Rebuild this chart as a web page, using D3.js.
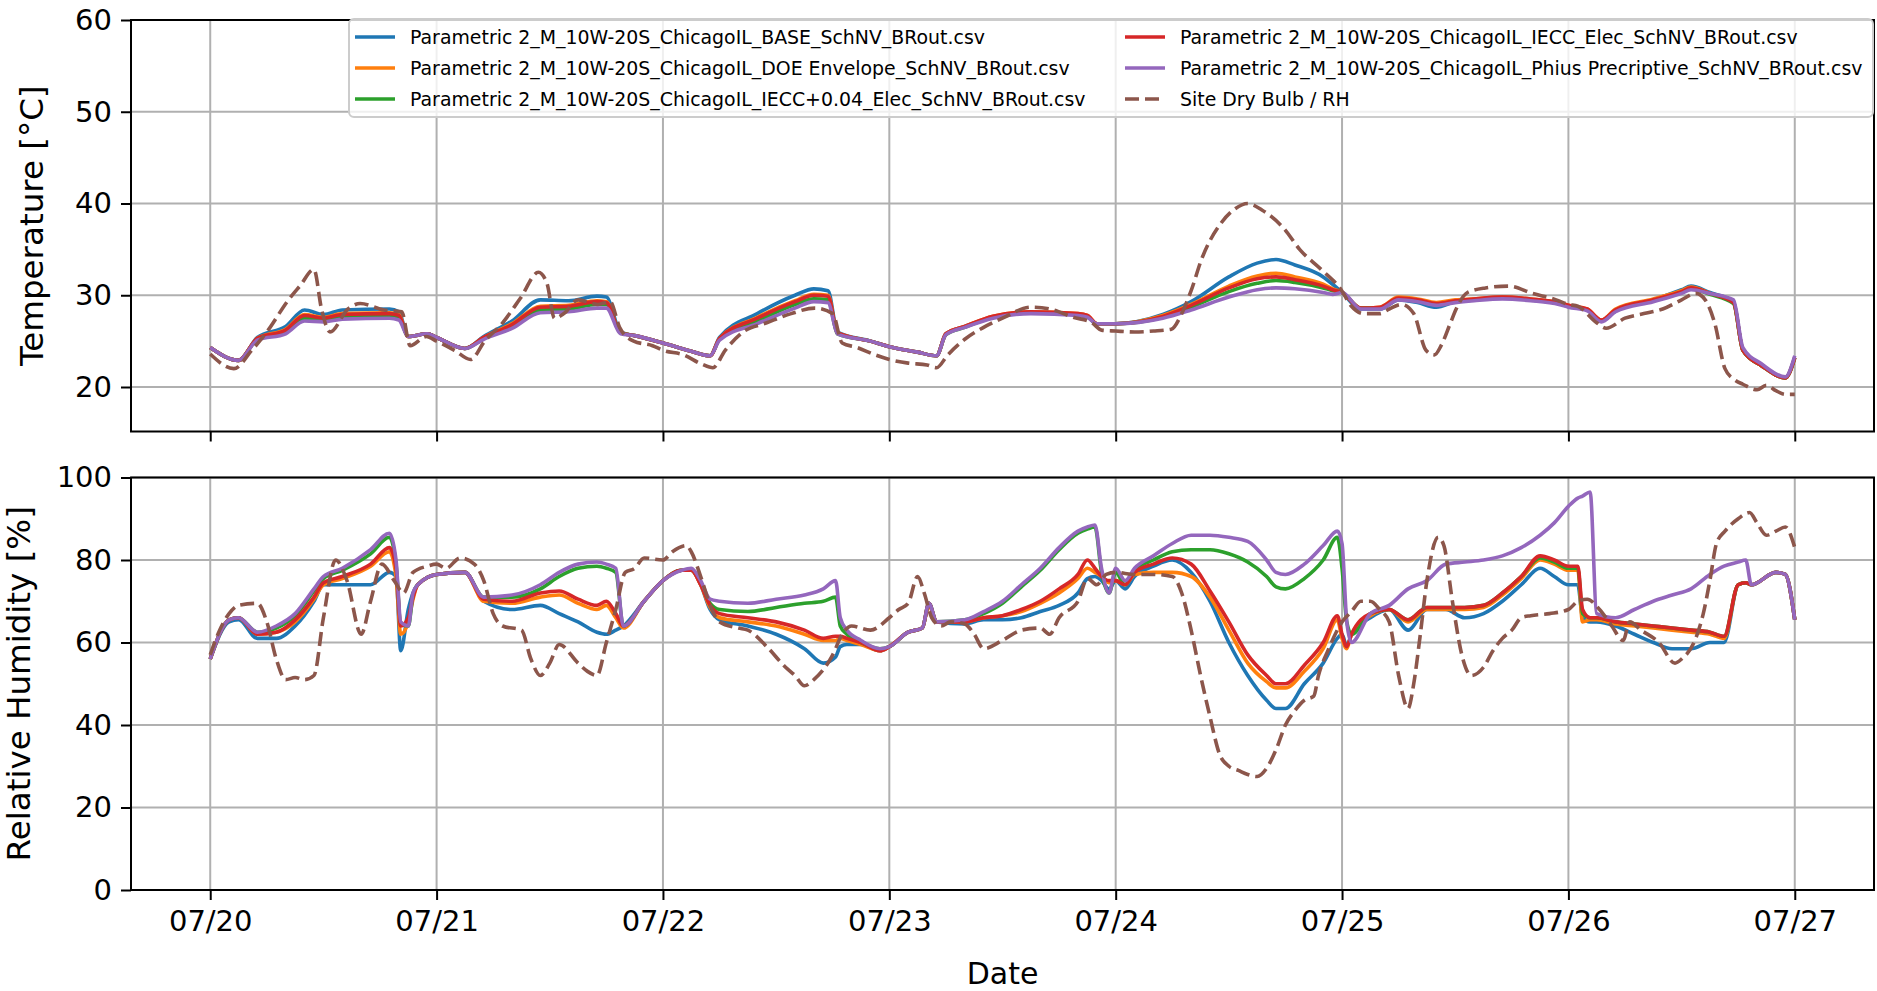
<!DOCTYPE html>
<html>
<head>
<meta charset="utf-8">
<script src="https://cdn.jsdelivr.net/npm/d3@7"></script>
<style>
  body { margin: 0; background: #fff; }
  text { font-family: "DejaVu Sans", sans-serif; fill: #000; }
</style>
</head>
<body>
<svg id="chart" width="1877" height="991"></svg>
<script>

// ---- data (hours counted from 07/20 00:00) ----

var seriesNames = [
    "Parametric 2_M_10W-20S_ChicagoIL_BASE_SchNV_BRout.csv",
    "Parametric 2_M_10W-20S_ChicagoIL_DOE Envelope_SchNV_BRout.csv",
    "Parametric 2_M_10W-20S_ChicagoIL_IECC+0.04_Elec_SchNV_BRout.csv",
    "Parametric 2_M_10W-20S_ChicagoIL_IECC_Elec_SchNV_BRout.csv",
    "Parametric 2_M_10W-20S_ChicagoIL_Phius Precriptive_SchNV_BRout.csv",
    "Site Dry Bulb / RH"
];
var seriesColors = ["#1f77b4", "#ff7f0e", "#2ca02c", "#d62728", "#9467bd", "#8c564b"];

var dayTicks = ["07/20", "07/21", "07/22", "07/23", "07/24", "07/25", "07/26", "07/27"];
var tempTicks = [20, 30, 40, 50, 60];
var rhTicks = [0, 20, 40, 60, 80, 100];

// temperature, modelled zones
var tempHours = [0,3,5,8,10,12,14,19,20,21,23,
    24,27,29,32,35,38,41,42,43.5,45,
    48,51,53,54,58,62,64,65.5,66.5,70,
    72,75,77,78,80,83,87,92,93,94,
    96,101,104,108,111,113,115,118,119,
    120,122,124,126,128,130,132,134,137,140,143,
    144,146,147.5,149,153,156,157,159,161.5,162.5,164.5,167,168];

var tempBase = [24.3,22.9,25.4,26.6,28.4,27.9,28.4,28.5,28.2,25.5,25.8,
    25.4,24.2,25.5,27.2,29.5,29.4,29.9,29.8,26.0,25.6,
    24.8,23.9,23.4,25.4,28.0,30.0,30.7,30.5,26.0,25.0,
    24.4,23.8,23.4,25.8,26.6,27.6,28.1,27.9,27.7,26.9,
    26.9,27.9,29.3,32.0,33.5,33.9,33.3,32.0,31.2,
    30.3,28.5,28.5,29.5,29.2,28.7,29.3,29.5,29.8,29.5,29.1,
    28.8,28.4,27.2,28.3,29.5,30.6,31.0,30.3,29.3,24.0,22.3,21.0,23.2];

var tempDoe = [24.3,22.9,25.3,26.3,27.9,27.6,28.0,28.1,27.9,25.5,25.8,
    25.4,24.2,25.4,26.9,28.8,28.9,29.4,29.3,25.9,25.6,
    24.8,23.9,23.4,25.3,27.6,29.4,30.1,30.0,25.9,25.0,
    24.4,23.8,23.4,25.8,26.6,27.7,28.2,28.0,27.8,26.9,
    26.9,27.8,29.0,31.0,32.1,32.4,32.0,31.2,30.7,
    30.3,28.6,28.7,29.8,29.6,29.2,29.5,29.6,29.8,29.6,29.2,
    28.9,28.5,27.3,28.5,29.6,30.5,30.9,30.2,29.2,24.0,22.3,21.0,23.2];

var tempIeccPlus = [24.3,22.9,25.2,26.0,27.5,27.3,27.7,27.8,27.6,25.5,25.8,
    25.4,24.2,25.3,26.6,28.4,28.5,29.0,29.0,25.9,25.6,
    24.8,23.9,23.4,25.2,27.2,29.0,29.6,29.5,25.8,25.0,
    24.4,23.8,23.4,25.7,26.5,27.6,28.1,27.9,27.7,26.9,
    26.9,27.6,28.7,30.4,31.3,31.6,31.4,30.8,30.5,
    30.3,28.6,28.6,29.6,29.4,29.0,29.3,29.5,29.7,29.5,29.1,
    28.8,28.4,27.2,28.3,29.4,30.3,30.7,30.1,29.1,24.0,22.3,21.0,23.2];

var tempIecc = [24.3,22.9,25.3,26.2,27.8,27.5,27.9,28.0,27.8,25.5,25.8,
    25.4,24.2,25.4,26.8,28.7,28.8,29.3,29.2,25.9,25.6,
    24.8,23.9,23.4,25.3,27.5,29.3,30.0,29.9,25.9,25.0,
    24.4,23.8,23.4,25.8,26.6,27.7,28.2,28.0,27.8,26.9,
    26.9,27.7,28.9,30.8,31.8,32.0,31.7,31.0,30.6,
    30.3,28.6,28.7,29.7,29.5,29.1,29.4,29.6,29.8,29.6,29.2,
    28.9,28.5,27.3,28.4,29.5,30.4,30.8,30.2,29.2,24.0,22.3,21.0,23.2];

var tempPhius = [24.3,22.9,25.1,25.8,27.2,27.1,27.4,27.5,27.3,25.5,25.8,
    25.4,24.2,25.2,26.4,28.1,28.2,28.6,28.6,25.8,25.6,
    24.8,23.9,23.4,25.1,26.9,28.6,29.3,29.2,25.8,25.0,
    24.4,23.8,23.4,25.7,26.5,27.5,28.0,27.8,27.6,26.9,
    26.9,27.5,28.4,29.8,30.6,30.8,30.7,30.3,30.1,
    30.3,28.5,28.5,29.5,29.3,28.9,29.2,29.4,29.6,29.4,29.0,
    28.7,28.3,27.1,28.2,29.3,30.2,30.6,30.2,29.5,24.3,22.5,21.1,23.4];

// site dry bulb [hour, °C]
var siteTemp = [[0,23.6],[2.5,22],[4.4,24],[6,26],[8.3,29.5],[9.5,31],[11,32.8],[11.8,28.5],[12.7,26],[14.6,28.5],[15.9,29.1],[18.4,28.4],[20.3,28.2],[21.2,24.5],[22.9,25.5],
    [24,25],[25.9,24],[27.6,23],[29.1,25],[31,27],[32.9,29.7],[34.8,32.5],[35.7,31.3],[36.5,27.5],[37.5,28],[39,29.5],[41.1,29],[42.4,29.3],[43.4,26.5],[44.9,25],[46.9,24.5],
    [48,24],[50.2,23.5],[52.1,22.5],[53.3,22.1],[54.6,24],[56.5,26],[59,27],[61.6,28],[64.1,28.6],[66,28],[67,24.8],[68.6,24.3],[70.5,23.5],
    [72,23],[74,22.6],[76,22.4],[77,22.1],[78.2,23.5],[80,25.2],[82,26.5],[84,27.5],[87,28.7],[89,28.5],[91.5,27.6],[93.5,27],[94.5,26.2],
    [96,26.1],[98,26],[100,26.1],[101.9,26.3],[103,28],[104,30.5],[105.1,33.9],[107.2,37.9],[108.5,39.3],[110,40],[111.5,39.3],[113.9,37.2],[115.5,35],[117.8,32.8],[119.9,30.6],
    [121,28.8],[122.3,28],[124,28],[125,28.5],[126.3,29],[127.6,28],[128.9,24],[129.8,23.5],[130.5,24.5],[131.5,27],[132.1,28.5],[133.3,30.3],[135.2,30.8],[137.7,31],[140.2,30.2],[142.7,29.5],
    [144,29],[145,28.8],[147,27],[148,26.4],[150,27.5],[152,28],[154,28.5],[156,29.5],[157.5,30.2],[158.5,29.5],[159.5,27],[160.6,22],[161.6,20.8],[162.5,20.3],[164,19.7],[165,20.2],[166,19.6],[167,19.2],[168,19.2]];

// relative humidity, modelled zones
var rhHours = [0,2,3,5,7,9,11,12,14,17,19,19.7,20.2,21,21.5,22,
    24,27,29,32,35,37,39,41,42,43,43.8,46,
    48,50,51,52,53,54,57,60,63,65,66.3,66.8,67.5,69,71,
    72,74,75.5,76.2,77,80,82,84,86,88,90,92,93,93.8,94.5,95.3,
    96,97,98,100,102,104,106,108,110,112,113,114,116,118,119.5,
    120,120.5,121,123,125,127,129,131,133,135,137,139,141,142.5,
    144,145,145.5,146.3,147,149,151,153,155,157,159,160.5,162,162.8,163.4,166,167,168];

var rhBase = [56,65,65.5,61,61,64,70,74,74,74,77,76,58,68,72,74,
    76.5,77,70,68,69,67,65,62.5,62,63,64,70,
    75,77.5,77.5,74,68,65.5,64,62,58.5,55,56.5,59,59.5,59.5,58,
    59,62.5,63.5,69.5,65,64.5,65.5,65.5,66,67.5,69,72,75.5,76,75,73,
    75,73,76,78.5,80,77,70,60,52,46,44,44,50,55,61,
    62,59,62,66,68,63,68,68,66,67,70,74,78,76,
    74,74,66,65,65,64,62,60,58.5,58.5,60,60,74,74.5,74,77,76.5,65.5];

var rhDoe = [56,65.5,66,62,62.5,65,70.5,74,75.5,78.5,82,76,62,65,70.5,74,
    76.5,77,70,69.5,71,71.5,69.5,68,69,66,63.5,70,
    75,77.5,77.5,74,68.5,66,65,64,62,60.5,60.5,61,60.5,59.5,58,
    59,62.5,63.5,69,65,65,66,66.5,67.5,69.5,72,75.5,78,77,76,74.5,
    75,74,76.5,77,77,76,71,63,55,50.5,49,49,53,58.5,65.5,
    61,58.5,62,66.5,68,65,68,68,68,68.5,71.5,75.5,80,79,
    77.5,77.5,65,65.5,65.5,64.5,64,63.5,63,62.5,62,61,74,74.5,74,77,76.5,65.5];

var rhIeccPlus = [56,65.5,66,62.5,63.5,66.5,72.5,75.5,77.5,81.5,85.5,79,64.5,64,71.5,74,
    76.5,77,71,71,73,76,78,78.5,78,77,64,70,
    75,77.5,77.5,74.5,69.5,68,67.5,68.5,69.5,70,71,64,62,60,58.5,
    59,62.5,63.5,69.5,65,65.5,67,69.5,73.5,77.5,82.5,86.5,87.5,88,77,72,
    77,74,77.5,80,82,82.5,82.5,81.5,79.5,76,73.5,73,75.5,80,85.5,
    78,65,62,67,68,65.5,68.5,68.5,68.5,69,72,76,80.5,79.5,
    78,78,67,66,66,65,64.5,64,63.5,63,62.5,61.5,74,74.5,74,77,76.5,65.5];

var rhIecc = [56,65.5,66,62,62.5,65.5,71,74.5,76,79,83,78,64,66,71,74,
    76.5,77,70.5,70,72,72.5,70.5,69,70,67,64,70,
    75,77.5,77.5,74,69,67,66,65,63,61,61.5,61.5,61,60,58,
    59,62.5,63.5,69.5,65,65,66,66.5,68,70,73,76.5,80,78,76,75,
    75,74,77,79,80.5,79,72.5,65,57,52,50,50,54.5,60,66.5,
    62,59,62,67,68,65.5,68.5,68.5,68.5,69,72,76,81,80,
    78.5,78.5,68,66,66,65,64.5,64,63.5,63,62.5,61.5,74,74.5,74,77,76.5,65.5];

var rhPhius = [56,65.5,66,62.5,64,67,73,76,78,82.5,86.5,80,65,64,72,74,
    76.5,77,71,71.5,74,77,79,79.5,79,78,64,70,
    75,77.5,78,75,70.5,70,69.5,70.5,71.5,73,75,66,63,60.5,58.5,
    59,62.5,63.5,69.5,65,65.5,67.5,70,74,78,83,87,88,88.5,78,72,
    78,75,78,81,84,86,86,85.5,84.5,80,77,76.5,79,83.5,87,
    84,65,60,67,69,73,75,79,79.5,80,81,83,86,89,
    93,95,95.5,96.5,67,66,68,70,71.5,73,76.5,78.5,79.5,80,74,77,76.5,65.5];

// site RH [hour, %]
var siteRh = [[0,57],[1,63],[2,67],[3,69],[5,69.5],[6,65],[7,56],[8,51],[9,51.5],[10,51],[11,52],[12,66],[13.3,80],[14.5,75],[16,62],[17,70],[18.2,79],[19.5,75],[20.5,72],[21.5,77],[23,78.5],
    [24,79],[25,78],[26.5,80.5],[28,79],[29,75],[30,67],[31,64],[33,63],[34,56],[35,52],[36,55],[37,59.5],[39,55],[40,53],[41,52],[42,60],[43,68],[44,77],[45,78],[46,80.5],
    [48,80],[49,82],[50.5,83.5],[51,82],[52,76],[53,69],[54,65],[56,63.5],[57,63],[59,59],[61,54],[62,52],[63,49.5],[64,51],[66,57],[67,62],[68,64],[70,63],
    [72,66],[73,68],[74,69.5],[75,76],[75.7,72],[76.5,66],[77.5,64],[78.5,65],[80,64.5],[81,62],[82,58.5],[84,60.5],[86,63],[88,63.5],[89,62],[90,66],[92,70],[93,75.5],[94,74],[95,76.5],
    [96,77],[98,76.5],[100,76.5],[102,76],[103,72],[104,63],[105,52],[106,42],[107,33],[108,30],[109,29],[110,28],[111,27.5],[112,29.5],[113,34],[114,40],[115,43.5],[116,46],[117,47],[117.5,52],[118.5,58],
    [120,65],[121,67.5],[122,70],[123,70],[124,68],[125,65],[126,52],[127,44],[127.6,50],[128.3,62],[129,75],[130.2,85.5],[130.8,83.5],[131.7,70],[132.7,57],[133.7,52],[135,54],[136,58],[137,61],[138,63],[139,66],[140,66.5],[142,67],
    [144,68],[145,70],[146,70.5],[147.3,68],[148.6,64],[149.8,60.5],[150.5,65],[151.7,63],[153.6,60],[155.3,55],[156,56],[157.5,61],[158.3,67],[159,75],[159.7,84],[160.6,87],[162,90],[163.2,91.5],[164,89],[165,86],[166,87],[167,88],[168,83]];

// ---- layout ----

var svg = d3.select("#chart");
var left = 131, right = 1874;
var topPanel = { y0: 20, y1: 431.5, labelX: 32 };
var botPanel = { y0: 477.5, y1: 890, labelX: 19 };   // pushed left by the wider "100" tick label

var tickFont = "29px";
var labelFont = "30px";
var yLabelFont = "32.5px";   // rotated labels come out a bit longer in the source
var legendFont = "18.9px";
var lineW = 3.6;
var dash = "14,6";

var t0 = Date.UTC(2000, 6, 20);
function hourToDate(h) { return new Date(t0 + h * 3600e3); }

// matplotlib style 5% margin either side of the 7 day span
var x = d3.scaleUtc()
    .domain([hourToDate(-0.05 * 168), hourToDate(168 * 1.05)])
    .range([left, right]);

var yT = d3.scaleLinear().domain([15.15, 60]).range([topPanel.y1, topPanel.y0]);
var yR = d3.scaleLinear().domain([0, 100]).range([botPanel.y1, botPanel.y0]);

var dayDates = dayTicks.map(function (d, i) { return hourToDate(i * 24); });

function zip(hours, vals) {
    return hours.map(function (h, i) { return [h, vals[i]]; });
}

var tempSeries = [zip(tempHours, tempBase), zip(tempHours, tempDoe), zip(tempHours, tempIeccPlus),
                  zip(tempHours, tempIecc), zip(tempHours, tempPhius), siteTemp];
var rhSeries = [zip(rhHours, rhBase), zip(rhHours, rhDoe), zip(rhHours, rhIeccPlus),
                zip(rhHours, rhIecc), zip(rhHours, rhPhius), siteRh];

function drawPanel(panel, y, yTicks, series, yLabel, id, showX) {
    var g = svg.append("g");

    // grid
    g.selectAll(".gx").data(dayDates).enter().append("line")
        .attr("x1", function (d) { return x(d); })
        .attr("x2", function (d) { return x(d); })
        .attr("y1", panel.y0).attr("y2", panel.y1)
        .attr("stroke", "#b0b0b0").attr("stroke-width", 2);
    g.selectAll(".gy").data(yTicks).enter().append("line")
        .attr("x1", left).attr("x2", right)
        .attr("y1", function (d) { return y(d); })
        .attr("y2", function (d) { return y(d); })
        .attr("stroke", "#b0b0b0").attr("stroke-width", 2);

    // clip
    svg.append("clipPath").attr("id", id)
        .append("rect")
        .attr("x", left).attr("y", panel.y0)
        .attr("width", right - left).attr("height", panel.y1 - panel.y0);

    var line = d3.line()
        .x(function (d) { return x(hourToDate(d[0])); })
        .y(function (d) { return y(d[1]); })
        .curve(d3.curveMonotoneX);

    g.append("g").attr("clip-path", "url(#" + id + ")")
        .selectAll("path").data(series).enter().append("path")
        .attr("d", line)
        .attr("fill", "none")
        .attr("stroke", function (d, i) { return seriesColors[i]; })
        .attr("stroke-width", lineW)
        .attr("stroke-linejoin", "round")
        .attr("stroke-dasharray", function (d, i) { return i == 5 ? dash : null; });

    // axes
    var xAxis = d3.axisBottom(x).tickValues(dayDates).tickSize(10).tickPadding(10)
        .tickFormat(function (d, i) { return showX ? dayTicks[i] : ""; });
    var gx = g.append("g").attr("transform", "translate(0," + panel.y1 + ")").call(xAxis);

    var yAxis = d3.axisLeft(y).tickValues(yTicks).tickSize(10).tickPadding(9);
    var gy = g.append("g").attr("transform", "translate(" + left + ",0)").call(yAxis);

    [gx, gy].forEach(function (a) {
        a.select(".domain").remove();
        a.selectAll(".tick line").attr("stroke", "#000").attr("stroke-width", 2);
        a.selectAll(".tick text").attr("font-size", tickFont)
            .attr("font-family", "DejaVu Sans").attr("fill", "#000");
    });

    // frame
    g.append("rect")
        .attr("x", left).attr("y", panel.y0)
        .attr("width", right - left).attr("height", panel.y1 - panel.y0)
        .attr("fill", "none").attr("stroke", "#000").attr("stroke-width", 2);

    g.append("text")
        .attr("transform", "translate(" + panel.labelX + "," + ((panel.y0 + panel.y1) / 2) + ") rotate(-90)")
        .attr("text-anchor", "middle")
        .attr("dominant-baseline", "central")
        .attr("font-size", yLabelFont)
        .text(yLabel);
}

drawPanel(topPanel, yT, tempTicks, tempSeries, "Temperature [°C]", "clipT", false);
drawPanel(botPanel, yR, rhTicks, rhSeries, "Relative Humidity [%]", "clipR", true);

svg.append("text")
    .attr("x", (left + right) / 2).attr("y", 973)
    .attr("text-anchor", "middle")
    .attr("dominant-baseline", "central")
    .attr("font-size", labelFont)
    .text("Date");

// ---- legend (2 columns, top right of upper panel) ----
var legend = svg.append("g");
legend.append("rect")
    .attr("x", 349).attr("y", 19)
    .attr("width", 1524).attr("height", 98)
    .attr("rx", 5)
    .attr("fill", "#fff").attr("fill-opacity", 0.8)
    .attr("stroke", "#cccccc").attr("stroke-width", 2);

var colX = [355, 1125];
var rowY = [37, 68, 99];

var items = legend.selectAll(".item").data(seriesNames).enter().append("g")
    .attr("transform", function (d, i) {
        return "translate(" + colX[Math.floor(i / 3)] + "," + rowY[i % 3] + ")";
    });
items.append("line")
    .attr("x1", 0).attr("x2", 40).attr("y1", 0).attr("y2", 0)
    .attr("stroke", function (d, i) { return seriesColors[i]; })
    .attr("stroke-width", lineW)
    .attr("stroke-dasharray", function (d, i) { return i == 5 ? dash : null; });
items.append("text")
    .attr("x", 55).attr("y", 0)
    .attr("dominant-baseline", "central")
    .attr("font-size", legendFont)
    .text(function (d) { return d; });

</script>
</body>
</html>
